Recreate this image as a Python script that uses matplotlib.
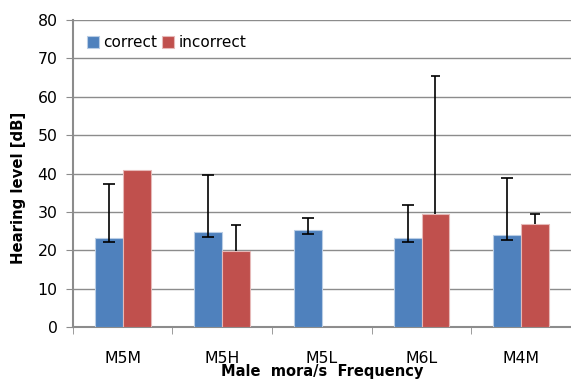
import numpy as np
import matplotlib.pyplot as plt

# data
categories = ['M5M', 'M5H', 'M5L', 'M6L', 'M4M']
correct = [23.3, 24.7, 25.3, 23.3, 23.9]
incorrect = [40.9, 19.8, 0.0, 29.5, 26.8]

# error bar ends (absolute values), None = no bar
correct_hi = [37.4, 39.5, 28.4, 31.9, 38.8]
correct_lo = [22.2, 23.5, 24.2, 22.1, 22.8]
incorrect_hi = [None, 26.6, None, 65.5, 29.4]

blue = '#4F81BD'
red = '#C0504D'
grid_col = '#8C8C8C'

fig = plt.figure(figsize=(5.71, 3.80), dpi=100)
ax = fig.add_axes([0.1275, 0.1395, 0.8725, 0.8075])

x = np.arange(len(categories))
w = 0.28
cap = 0.05

ax.bar(x - w/2, correct, w, color=blue, edgecolor='#B9CDE5', linewidth=0.8,
       label='correct', zorder=3)
ax.bar(x + w/2, incorrect, w, color=red, edgecolor='#E6B9B8', linewidth=0.8,
       label='incorrect', zorder=3)

# error bars for correct
lo = np.array(correct) - np.array(correct_lo)
hi = np.array(correct_hi) - np.array(correct)
ax.errorbar(x - w/2, correct, yerr=[lo, hi], fmt='none', ecolor='black',
            elinewidth=1.2, capsize=4, capthick=1.2, zorder=4)

# error bars for incorrect (upper only, no lower cap)
for i in range(len(categories)):
    if incorrect_hi[i] is None:
        continue
    xc = x[i] + w/2
    ax.vlines(xc, incorrect[i], incorrect_hi[i], color='black', linewidth=1.2, zorder=4)
    ax.hlines(incorrect_hi[i], xc - cap, xc + cap, color='black', linewidth=1.2, zorder=4)

ax.set_xlim(-0.5, len(categories) - 0.5)
ax.set_ylim(0, 80)
ax.set_yticks(np.arange(0, 81, 10))
ax.yaxis.grid(True, color=grid_col, linewidth=1.0, zorder=0)
ax.set_axisbelow(True)

ax.set_xticks(x)
ax.set_xticklabels(categories, fontsize=11.3)
ax.set_xticks(np.arange(len(categories) + 1) - 0.5, minor=True)
ax.tick_params(axis='x', which='major', length=0, pad=17)
ax.tick_params(axis='x', which='minor', length=5, color=grid_col, direction='out')
ax.tick_params(axis='y', length=5, color=grid_col, labelsize=11.3, pad=6)

for s in ['top', 'right']:
    ax.spines[s].set_visible(False)
for s in ['left', 'bottom']:
    ax.spines[s].set_color(grid_col)
    ax.spines[s].set_linewidth(1.5)

ax.set_ylabel('Hearing level [dB]', fontsize=10.7, fontweight='bold')
ax.yaxis.set_label_coords(-0.094, 0.454)
ax.set_xlabel('Male  mora/s  Frequency', fontsize=10.5, fontweight='bold')
ax.xaxis.set_label_coords(0.5, -0.122)

ax.legend(loc='upper left', bbox_to_anchor=(0.0, 0.995), ncol=2, frameon=False,
          fontsize=11, handlelength=0.8, handleheight=0.8, handletextpad=0.3,
          columnspacing=0.3)

fig.savefig('out.png', dpi=100)
